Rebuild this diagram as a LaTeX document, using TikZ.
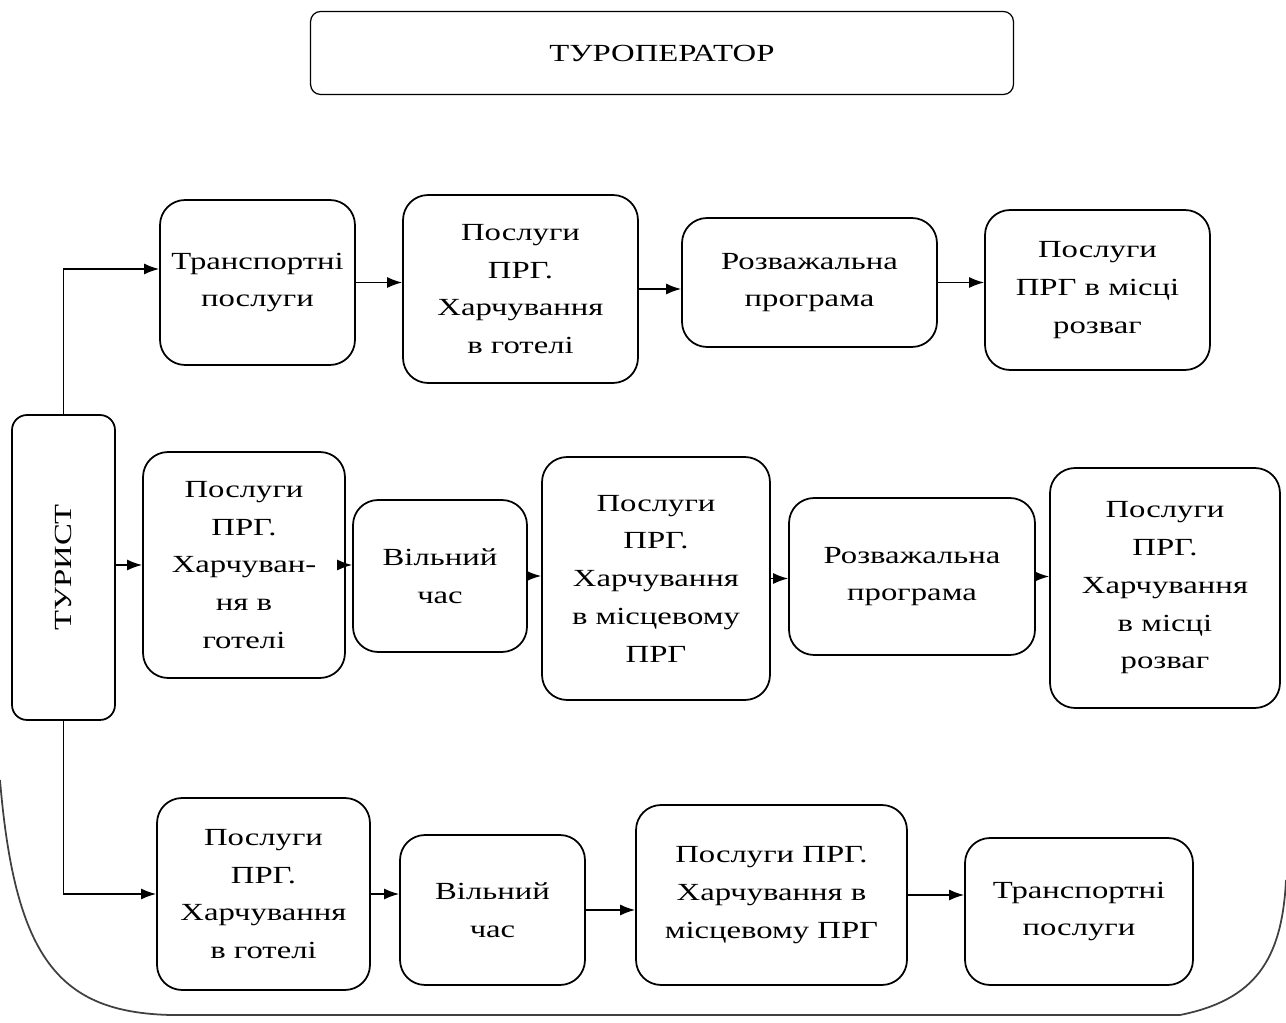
\documentclass[tikz,border=0pt]{standalone}
\usepackage{fontspec}
\setmainfont{Liberation Serif}[FakeStretch=1.33]
\usetikzlibrary{arrows.meta}
\begin{document}
\begin{tikzpicture}[>={Latex[length=3mm,width=2.2mm]}, x=0.02cm, y=-0.02cm,
  blok/.style={draw, line width=1pt, rounded corners=0.5cm, align=center, inner sep=2pt,
    font=\fontsize{14}{21.5}\selectfont},
  strilka/.style={->, line width=0.9pt}]
\useasboundingbox (0,0) rectangle (1286,1023);
% top
\node[blok, line width=0.7pt, rounded corners=0.2cm, minimum width=14.06cm, minimum height=1.66cm] (top) at (662,53) {ТУРОПЕРАТОР};
\node[blok, rounded corners=0.3cm, minimum width=2.06cm, minimum height=6.1cm] (tur) at (63.5,567.5) {\rotatebox{90}{ТУРИСТ}};
% row 1
\node[blok, minimum width=3.9cm, minimum height=3.3cm] (b1) at (257.5,282.5) {Транспортні\\послуги};
\node[blok, minimum width=4.7cm, minimum height=3.76cm] (b2) at (520.5,289) {Послуги\\ПРГ.\\Харчування\\в готелі};
\node[blok, minimum width=5.1cm, minimum height=2.58cm] (b3) at (809.5,282.5) {Розважальна\\програма};
\node[blok, minimum width=4.5cm, minimum height=3.2cm] (b4) at (1097.5,290) {Послуги\\ПРГ в місці\\розваг};
% row 2
\node[blok, minimum width=4.04cm, minimum height=4.52cm] (b5) at (244,565) {Послуги\\ПРГ.\\Харчуван-\\ня в\\готелі};
\node[blok, minimum width=3.48cm, minimum height=3.04cm] (b6) at (440,576) {Вільний\\час};
\node[blok, minimum width=4.56cm, minimum height=4.86cm] (b7) at (656,578.5) {Послуги\\ПРГ.\\Харчування\\в місцевому\\ПРГ};
\node[blok, minimum width=4.92cm, minimum height=3.14cm] (b8) at (912,576.5) {Розважальна\\програма};
\node[blok, minimum width=4.6cm, minimum height=4.8cm] (b9) at (1165,588) {Послуги\\ПРГ.\\Харчування\\в місці\\розваг};
% row 3
\node[blok, minimum width=4.26cm, minimum height=3.84cm] (b10) at (263.5,894) {Послуги\\ПРГ.\\Харчування\\в готелі};
\node[blok, minimum width=3.7cm, minimum height=3.0cm] (b11) at (492.5,910) {Вільний\\час};
\node[blok, minimum width=5.42cm, minimum height=3.6cm] (b12) at (771.5,895) {Послуги ПРГ.\\Харчування в\\місцевому ПРГ};
\node[blok, minimum width=4.56cm, minimum height=2.94cm] (b13) at (1079,911.5) {Транспортні\\послуги};
% connectors
\coordinate (kut) at (tur.north |- 0,269);
\draw[strilka] (tur.north) -- (kut) -- (kut -| b1.west);
\draw[strilka] (tur.east |- b5.west) -- (b5.west);
\draw[strilka] (tur.south) |- (b10.west);
\foreach \a/\b in {b1/b2, b2/b3, b3/b4, b5/b6, b6/b7, b7/b8, b8/b9, b10/b11, b11/b12, b12/b13}
  \draw[strilka] (\a.east) -- (\a.east -| \b.west);
% edge of the frame
\draw[line width=1pt, black!75] (0,780) .. controls (15,960) and (60,1012) .. (170,1015)
  -- (1180,1015) .. controls (1255,1000) and (1282,960) .. (1286,880);
\end{tikzpicture}
\end{document}
